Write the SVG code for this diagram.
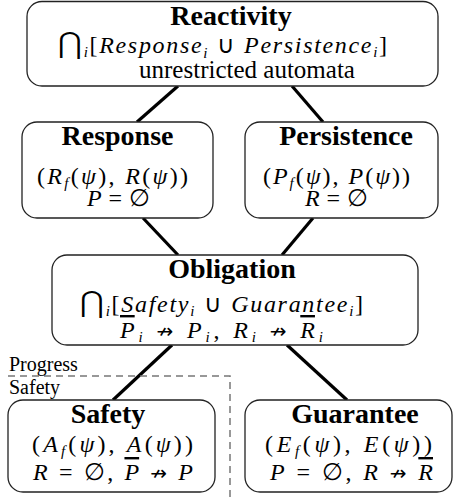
<svg xmlns="http://www.w3.org/2000/svg" width="453" height="501" viewBox="0 0 453 501" font-family="Liberation Serif, Times New Roman, serif">
<style>
.box{fill:#fff;stroke:#222;stroke-width:1.3}
.title{font-weight:bold;font-size:28px;text-anchor:middle;fill:#000}
.txt{font-size:25px;text-anchor:middle;fill:#000}
.m{font-size:24px;fill:#000}
.it{font-style:italic}
.sub{font-style:italic;font-size:15px}
.big{font-size:29px}
.ar{font-size:20px}
.ol{text-decoration:overline}
.conn line{stroke:#000;stroke-width:3.2}
.lbl{font-size:20px;fill:#000}
</style>
<rect width="453" height="501" fill="#fff"/>
<g id="connectors" class="conn">
<line x1="178" y1="86" x2="137" y2="122"/>
<line x1="292" y1="86" x2="323" y2="122"/>
<line x1="143" y1="218" x2="178" y2="255"/>
<line x1="313" y1="218" x2="282" y2="255"/>
<line x1="172" y1="345" x2="113" y2="400"/>
<line x1="287" y1="345" x2="347" y2="400"/>
</g>
<g id="divider">
<path d="M8,376 H230 V501" fill="none" stroke="#777" stroke-width="1.5" stroke-dasharray="7,5"/>
<text class="lbl" x="9" y="371" font-family="Liberation Serif, serif">Progress</text>
<text class="lbl" x="9" y="394" font-family="Liberation Serif, serif">Safety</text>
</g>
<g id="reactivity">
<rect class="box" x="27" y="1.5" width="411" height="84.5" rx="15"/>
<text class="title" x="231" y="25" font-family="Liberation Serif, serif">Reactivity</text>
<text class="m" x="58" y="53" textLength="329" lengthAdjust="spacing" font-family="Liberation Serif, serif"><tspan class="big">⋂</tspan><tspan class="sub" dy="4">i</tspan><tspan dy="-4">[</tspan><tspan class="it">Response</tspan><tspan class="sub" dy="5">i</tspan><tspan dy="-5"> ∪ </tspan><tspan class="it">Persistence</tspan><tspan class="sub" dy="4">i</tspan><tspan dy="-4">]</tspan></text>
<text class="txt" x="247" y="78" font-family="Liberation Serif, serif">unrestricted automata</text>
</g>
<g id="response">
<rect class="box" x="22" y="122" width="191" height="96" rx="15"/>
<text class="title" x="117.5" y="145" font-family="Liberation Serif, serif">Response</text>
<text class="m" x="37" y="184" textLength="151" lengthAdjust="spacing" font-family="Liberation Serif, serif">(<tspan class="it">R</tspan><tspan class="sub" dy="4">f</tspan><tspan dy="-4">(</tspan><tspan class="it">ψ</tspan>), <tspan class="it">R</tspan>(<tspan class="it">ψ</tspan>))</text>
<text class="m" x="87" y="206" textLength="63" lengthAdjust="spacing" font-family="Liberation Serif, serif"><tspan class="it">P</tspan> = ∅</text>
</g>
<g id="persistence">
<rect class="box" x="245" y="122" width="193" height="96" rx="15"/>
<text class="title" x="346" y="145" font-family="Liberation Serif, serif">Persistence</text>
<text class="m" x="263" y="184" textLength="147" lengthAdjust="spacing" font-family="Liberation Serif, serif">(<tspan class="it">P</tspan><tspan class="sub" dy="4">f</tspan><tspan dy="-4">(</tspan><tspan class="it">ψ</tspan>), <tspan class="it">P</tspan>(<tspan class="it">ψ</tspan>))</text>
<text class="m" x="305" y="206" textLength="63" lengthAdjust="spacing" font-family="Liberation Serif, serif"><tspan class="it">R</tspan> = ∅</text>
</g>
<g id="obligation">
<rect class="box" x="52" y="255" width="366" height="90" rx="15"/>
<text class="title" x="232" y="278" font-family="Liberation Serif, serif">Obligation</text>
<text class="m" x="80" y="312" textLength="283" lengthAdjust="spacing" font-family="Liberation Serif, serif"><tspan class="big">⋂</tspan><tspan class="sub" dy="4">i</tspan><tspan dy="-4">[</tspan><tspan class="it">Safety</tspan><tspan class="sub" dy="4">i</tspan><tspan dy="-4"> ∪ </tspan><tspan class="it">Guarantee</tspan><tspan class="sub" dy="4">i</tspan><tspan dy="-4">]</tspan></text>
<text class="m" x="120" y="338" textLength="203" lengthAdjust="spacing" font-family="Liberation Serif, serif"><tspan class="it ol">P</tspan><tspan class="sub" dy="4">i</tspan><tspan dy="-4"> </tspan><tspan class="ar" font-family="DejaVu Sans, sans-serif">↛</tspan> <tspan class="it">P</tspan><tspan class="sub" dy="4">i</tspan><tspan dy="-4">, </tspan><tspan class="it">R</tspan><tspan class="sub" dy="4">i</tspan><tspan dy="-4"> </tspan><tspan class="ar" font-family="DejaVu Sans, sans-serif">↛</tspan> <tspan class="it ol">R</tspan><tspan class="sub" dy="4">i</tspan></text>
</g>
<g id="safety">
<rect class="box" x="8" y="400" width="207" height="92" rx="15"/>
<text class="title" x="108" y="423" font-family="Liberation Serif, serif">Safety</text>
<text class="m" x="32" y="452" textLength="161" lengthAdjust="spacing" font-family="Liberation Serif, serif">(<tspan class="it">A</tspan><tspan class="sub" dy="4">f</tspan><tspan dy="-4">(</tspan><tspan class="it">ψ</tspan>), <tspan class="it">A</tspan>(<tspan class="it">ψ</tspan>))</text>
<text class="m" x="33" y="480" textLength="160" lengthAdjust="spacing" font-family="Liberation Serif, serif"><tspan class="it">R</tspan> = ∅, <tspan class="it ol">P</tspan> <tspan class="ar" font-family="DejaVu Sans, sans-serif">↛</tspan> <tspan class="it">P</tspan></text>
</g>
<g id="guarantee">
<rect class="box" x="245" y="400" width="207" height="92" rx="15"/>
<text class="title" x="355" y="423" font-family="Liberation Serif, serif">Guarantee</text>
<text class="m" x="265" y="452" textLength="167" lengthAdjust="spacing" font-family="Liberation Serif, serif">(<tspan class="it">E</tspan><tspan class="sub" dy="4">f</tspan><tspan dy="-4">(</tspan><tspan class="it">ψ</tspan>), <tspan class="it">E</tspan>(<tspan class="it">ψ</tspan>))</text>
<text class="m" x="270" y="480" textLength="163" lengthAdjust="spacing" font-family="Liberation Serif, serif"><tspan class="it">P</tspan> = ∅, <tspan class="it">R</tspan> <tspan class="ar" font-family="DejaVu Sans, sans-serif">↛</tspan> <tspan class="it ol">R</tspan></text>
</g>
</svg>
